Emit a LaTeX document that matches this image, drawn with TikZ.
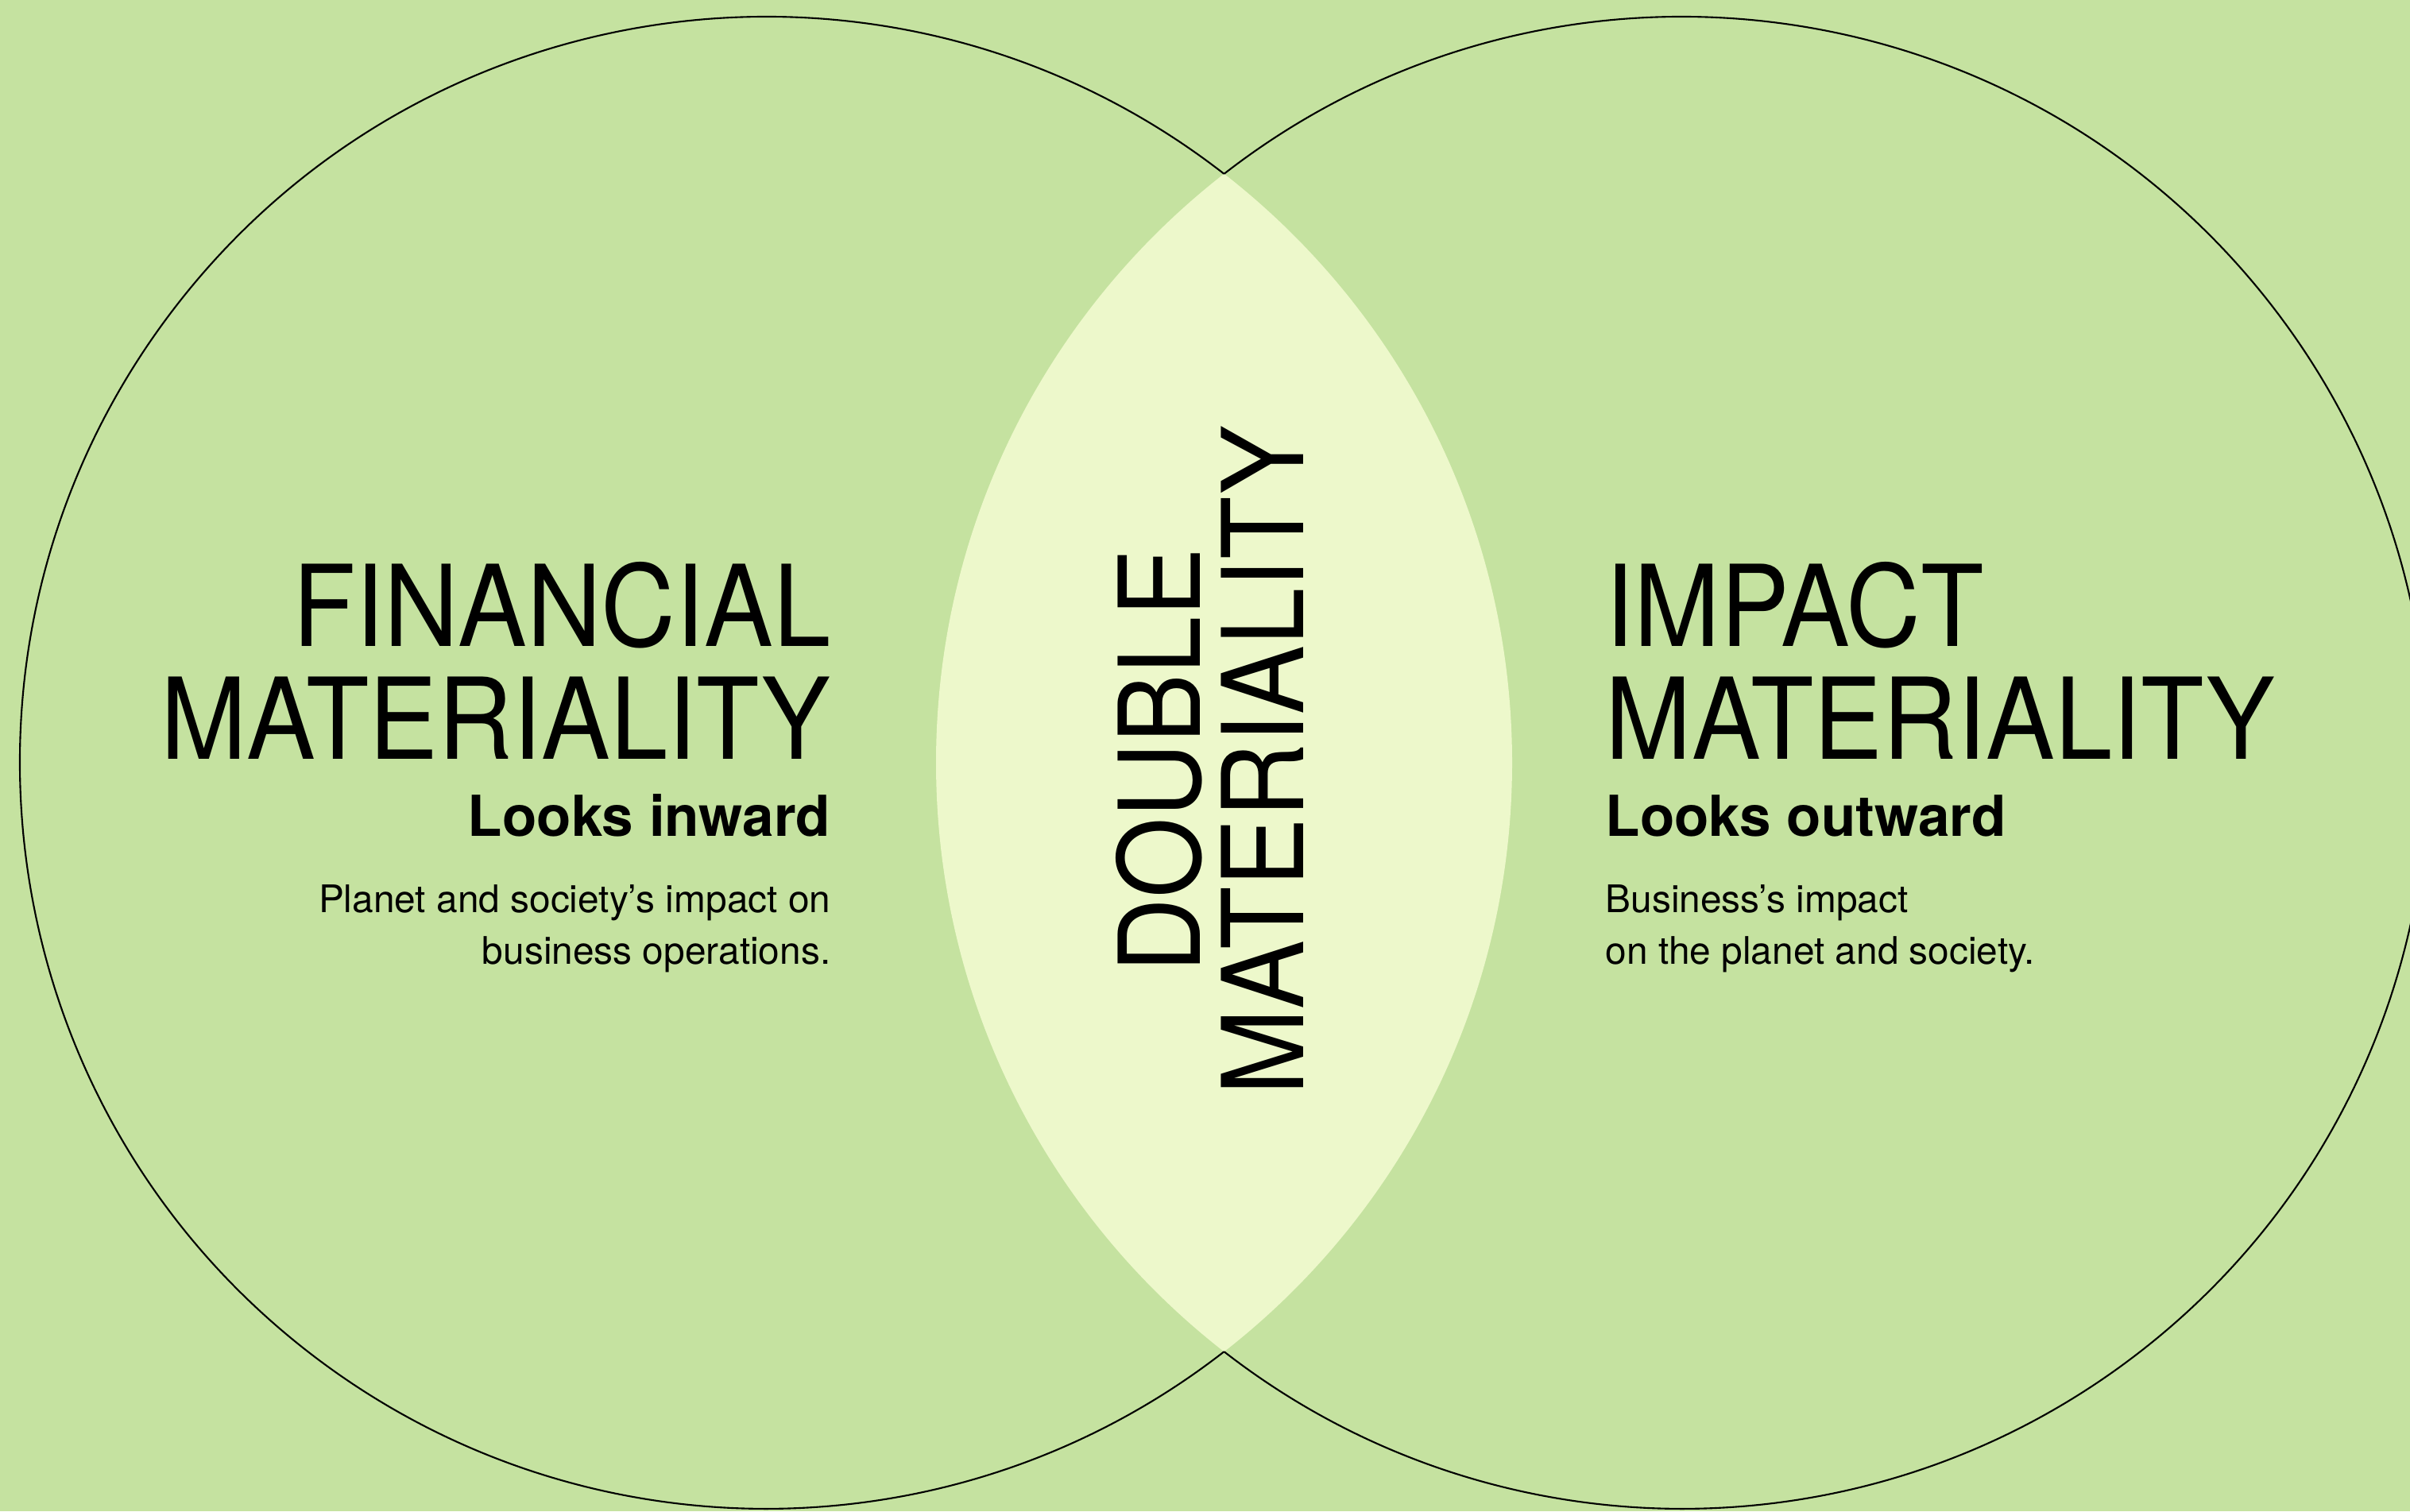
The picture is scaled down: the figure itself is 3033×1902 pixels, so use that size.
\documentclass[tikz,border=0pt]{standalone}
\usepackage{fontspec}
\setmainfont{TeX Gyre Heros}
\newfontfamily\titlefont{TeX Gyre Heros}[FakeStretch=0.915]
\definecolor{leafgreen}{HTML}{C5E2A0}
\definecolor{palegreen}{HTML}{EDF8CB}

\begin{document}
\begin{tikzpicture}[x=0.01cm,y=0.01cm]
		\tikzstyle{title}=[inner sep=0pt,font=\titlefont\fontsize{40.4pt}{44pt}\selectfont]
		\tikzstyle{tagline}=[inner sep=0pt,font=\bfseries\fontsize{20.2pt}{24pt}\selectfont]
		\tikzstyle{blurb}=[inner sep=0pt,font=\fontsize{13.6pt}{18pt}\selectfont]
		\tikzstyle{outline}=[black,line width=0.6pt]
		% page
		\fill [leafgreen] (0,0) rectangle (3033,1902);
		\clip (0,0) rectangle (3033,1902);
		\coordinate (lc) at (964,942);
		\coordinate (rc) at (2117,942);
		% overlap
		\begin{scope}
			\clip (lc) circle (939);
			\fill [palegreen] (rc) circle (939);
		\end{scope}
		% circles, outside the overlap
		\draw [outline] ([shift={(52.12:939)}]lc) arc[start angle=52.12,end angle=307.88,radius=939];
		\draw [outline] ([shift={(127.88:939)}]rc) arc[start angle=127.88,end angle=-127.88,radius=939];
		% left set
		\node [title,anchor=base east] (fin1) at (1046,1088) {FINANCIAL};
		\node [title,anchor=base east] (fin2) at (1046,946) {MATERIALITY};
		\node [tagline,anchor=base east] (fin3) at (1046,849) {Looks inward};
		\node [blurb,anchor=base east] (fin4) at (1046,753) {Planet and society’s impact on};
		\node [blurb,anchor=base east] (fin5) at (1046,689) {business operations.};
		% right set
		\node [title,anchor=base west] (imp1) at (2020,1088) {IMPACT};
		\node [title,anchor=base west] (imp2) at (2020,946) {MATERIALITY};
		\node [tagline,anchor=base west] (imp3) at (2020,849) {Looks outward};
		\node [blurb,anchor=base west] (imp4) at (2020,753) {Business’s impact};
		\node [blurb,anchor=base west] (imp5) at (2020,689) {on the planet and society.};
		% overlap label
		\node [title,rotate=90,anchor=base] (dbl1) at (1510,945) {DOUBLE};
		\node [title,rotate=90,anchor=base] (dbl2) at (1640,945) {MATERIALITY};
	\end{tikzpicture}
\end{document}
